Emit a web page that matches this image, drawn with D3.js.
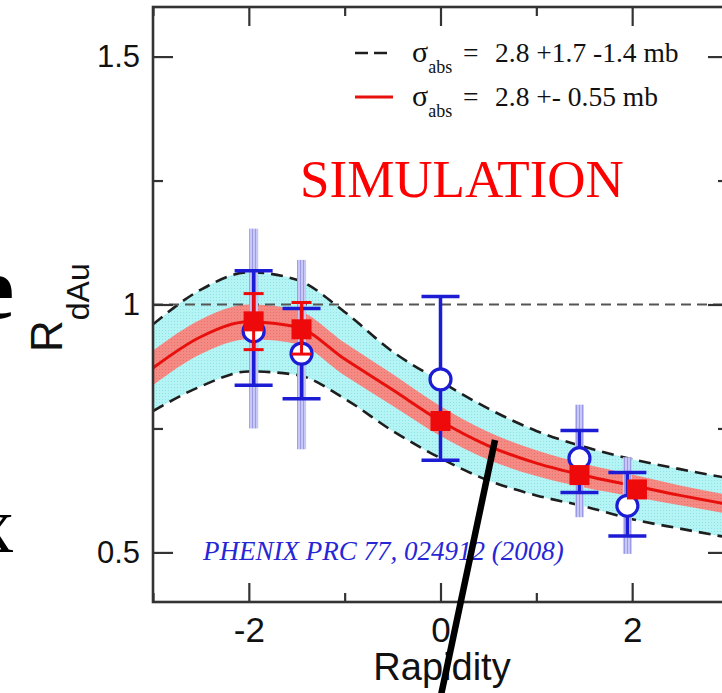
<!DOCTYPE html>
<html><head><meta charset="utf-8">
<script src="https://cdn.jsdelivr.net/npm/d3@7/dist/d3.min.js"></script>
<style>html,body{margin:0;padding:0;background:#fff;overflow:hidden}</style>
</head><body>
<svg id="c" width="722" height="693"></svg>
<script>
// ---- data ----
const rapidity = [-3, -2.5, -2, -1.5, -1, -0.5, 0, 0.5, 1, 1.5, 2, 2.5, 3];
const centerR = [0.872, 0.935, 0.965, 0.955, 0.89, 0.828, 0.765, 0.715, 0.68, 0.655, 0.635, 0.615, 0.597];
const redHalf = [0.035, 0.035, 0.035, 0.034, 0.033, 0.032, 0.03, 0.028, 0.026, 0.024, 0.022, 0.02, 0.019];
const upperR = [0.96, 1.03, 1.065, 1.05, 0.985, 0.905, 0.845, 0.79, 0.745, 0.713, 0.688, 0.668, 0.65];
const lowerR = [0.785, 0.835, 0.865, 0.858, 0.81, 0.745, 0.69, 0.645, 0.615, 0.593, 0.567, 0.548, 0.53];

const circX = [-1.95, -1.45, 0.0, 1.45, 1.95];
const circY = [0.946, 0.901, 0.849, 0.69, 0.594];
const circHi = [1.068, 0.992, 1.016, 0.746, 0.661];
const circLo = [0.837, 0.81, 0.686, 0.621, 0.533];
const sysHi = [1.153, 1.09, null, 0.798, 0.692];
const sysLo = [0.75, 0.708, null, 0.571, 0.497];

const sqX = [-1.95, -1.45, 0.0, 1.45, 2.05];
const sqY = [0.966, 0.95, 0.765, 0.656, 0.627];
const sqHi = [1.022, 1.004, null, null, null];
const sqLo = [0.909, 0.9, null, null, null];

const xMajor = [-2, 0, 2];
const xMinor = [-3, -1, 1, 3];
const yMajor = [0.5, 1, 1.5];
const yMinor = [0.75, 1.25];

const legendTexts = ["2.8 +1.7 -1.4 mb", "2.8 +- 0.55 mb"];

// ---- scales ----
const L = 153, R = 728, T = 7, B = 602;
const x = d3.scaleLinear().domain([-3, 3]).range([L, R]);
const y = d3.scaleLinear().domain([0.4, 1.6]).range([B, T]);

const svg = d3.select("#c");
const defs = svg.append("defs");
defs.append("clipPath").attr("id", "clip").append("rect")
  .attr("x", L).attr("y", T).attr("width", R - L).attr("height", B - T);

// textures
const pc = defs.append("pattern").attr("id", "cyan").attr("width", 3).attr("height", 3).attr("patternUnits", "userSpaceOnUse");
pc.append("rect").attr("width", 3).attr("height", 3).attr("fill", "#b4f4f4");
pc.append("rect").attr("width", 1).attr("height", 1).attr("fill", "#8fe2e6");
const pr = defs.append("pattern").attr("id", "redb").attr("width", 3).attr("height", 3).attr("patternUnits", "userSpaceOnUse");
pr.append("rect").attr("width", 3).attr("height", 3).attr("fill", "#f48a84");
pr.append("rect").attr("width", 1).attr("height", 1).attr("fill", "#ef6f6a");
const ps = defs.append("pattern").attr("id", "sys").attr("width", 3).attr("height", 3).attr("patternUnits", "userSpaceOnUse");
ps.append("rect").attr("width", 3).attr("height", 3).attr("fill", "#c8c8f6");
ps.append("rect").attr("width", 1).attr("height", 3).attr("fill", "#9a9ae8");

const pts = rapidity.map((r, i) => ({r, c: centerR[i], h: redHalf[i], u: upperR[i], l: lowerR[i]}));
const curve = d3.curveMonotoneX;

const plot = svg.append("g").attr("clip-path", "url(#clip)");

// cyan band
plot.append("path").datum(pts)
  .attr("d", d3.area().x(d => x(d.r)).y0(d => y(d.l)).y1(d => y(d.u)).curve(curve))
  .attr("fill", "url(#cyan)");
// red band
plot.append("path").datum(pts)
  .attr("d", d3.area().x(d => x(d.r)).y0(d => y(d.c - d.h)).y1(d => y(d.c + d.h)).curve(curve))
  .attr("fill", "url(#redb)");
// red center line
plot.append("path").datum(pts)
  .attr("d", d3.line().x(d => x(d.r)).y(d => y(d.c)).curve(curve))
  .attr("fill", "none").attr("stroke", "#e8100c").attr("stroke-width", 3);
// dashed bounds
["u", "l"].forEach(k => {
  plot.append("path").datum(pts)
    .attr("d", d3.line().x(d => x(d.r)).y(d => y(d[k])).curve(curve))
    .attr("fill", "none").attr("stroke", "#1e1e1e").attr("stroke-width", 2.6)
    .attr("stroke-dasharray", "12,7");
});
// y = 1 reference line
plot.append("line").attr("x1", L).attr("x2", R).attr("y1", y(1)).attr("y2", y(1))
  .attr("stroke", "#555").attr("stroke-width", 2).attr("stroke-dasharray", "10,6");

// systematic boxes
const circData = circX.map((v, i) => ({x: v, y: circY[i], hi: circHi[i], lo: circLo[i], sh: sysHi[i], sl: sysLo[i]}));
plot.selectAll(".sys").data(circData.filter(d => d.sh != null)).join("rect")
  .attr("x", d => x(d.x) - 4.5).attr("width", 9)
  .attr("y", d => y(d.sh)).attr("height", d => y(d.sl) - y(d.sh))
  .attr("fill", "url(#sys)");

// blue error bars
const blue = "#1c1cd4";
const eb = plot.selectAll(".eb").data(circData).join("g");
eb.append("line").attr("x1", d => x(d.x)).attr("x2", d => x(d.x))
  .attr("y1", d => y(d.hi)).attr("y2", d => y(d.lo)).attr("stroke", blue).attr("stroke-width", 3.5);
eb.append("line").attr("x1", d => x(d.x) - 19).attr("x2", d => x(d.x) + 19)
  .attr("y1", d => y(d.hi)).attr("y2", d => y(d.hi)).attr("stroke", blue).attr("stroke-width", 3.5);
eb.append("line").attr("x1", d => x(d.x) - 19).attr("x2", d => x(d.x) + 19)
  .attr("y1", d => y(d.lo)).attr("y2", d => y(d.lo)).attr("stroke", blue).attr("stroke-width", 3.5);
eb.append("circle").attr("cx", d => x(d.x)).attr("cy", d => y(d.y)).attr("r", 10.5)
  .attr("fill", "#fff").attr("stroke", blue).attr("stroke-width", 3.2);

// red squares + error bars
const sqData = sqX.map((v, i) => ({x: v, y: sqY[i], hi: sqHi[i], lo: sqLo[i]}));
const red = "#ee0a0a";
const rb = plot.selectAll(".rb").data(sqData.filter(d => d.hi != null)).join("g");
rb.append("line").attr("x1", d => x(d.x)).attr("x2", d => x(d.x))
  .attr("y1", d => y(d.hi)).attr("y2", d => y(d.lo)).attr("stroke", red).attr("stroke-width", 3);
rb.append("line").attr("x1", d => x(d.x) - 10).attr("x2", d => x(d.x) + 10)
  .attr("y1", d => y(d.hi)).attr("y2", d => y(d.hi)).attr("stroke", red).attr("stroke-width", 3);
rb.append("line").attr("x1", d => x(d.x) - 10).attr("x2", d => x(d.x) + 10)
  .attr("y1", d => y(d.lo)).attr("y2", d => y(d.lo)).attr("stroke", red).attr("stroke-width", 3);
plot.selectAll(".sq").data(sqData).join("rect")
  .attr("x", d => x(d.x) - 10).attr("y", d => y(d.y) - 10).attr("width", 20).attr("height", 20)
  .attr("fill", red);

// ---- axes ----
const axisColor = "#333";
function styleAxis(g) {
  g.select(".domain").remove();
  g.selectAll(".tick line").attr("stroke", axisColor).attr("stroke-width", 2.2);
  g.selectAll(".tick text").attr("fill", "#111").attr("font-family", "Liberation Sans, Arial, sans-serif");
}
svg.append("g").attr("transform", `translate(0,${B})`)
  .call(d3.axisBottom(x).tickValues(xMajor).tickSize(-19).tickPadding(15).tickFormat(d => String(d)))
  .call(styleAxis).call(g => g.selectAll("text").attr("font-size", 35));
svg.append("g").attr("transform", `translate(0,${B})`)
  .call(d3.axisBottom(x).tickValues(xMinor).tickSize(-9).tickFormat("")).call(styleAxis);
svg.append("g").attr("transform", `translate(0,${T})`)
  .call(d3.axisTop(x).tickValues(xMajor).tickSize(-19).tickFormat("")).call(styleAxis);
svg.append("g").attr("transform", `translate(0,${T})`)
  .call(d3.axisTop(x).tickValues(xMinor).tickSize(-9).tickFormat("")).call(styleAxis);
svg.append("g").attr("transform", `translate(${L},0)`)
  .call(d3.axisLeft(y).tickValues(yMajor).tickSize(-20).tickPadding(13).tickFormat(d => d === 1 ? "1" : d3.format(".1f")(d)))
  .call(styleAxis).call(g => g.selectAll("text").attr("font-size", 31));
svg.append("g").attr("transform", `translate(${L},0)`)
  .call(d3.axisLeft(y).tickValues(yMinor).tickSize(-10).tickFormat("")).call(styleAxis);
svg.append("g").attr("transform", `translate(${R},0)`)
  .call(d3.axisRight(y).tickValues(yMajor).tickSize(-20).tickFormat("")).call(styleAxis);
svg.append("g").attr("transform", `translate(${R},0)`)
  .call(d3.axisRight(y).tickValues(yMinor).tickSize(-10).tickFormat("")).call(styleAxis);

// frame
svg.append("rect").attr("x", L).attr("y", T).attr("width", R - L).attr("height", B - T)
  .attr("fill", "none").attr("stroke", axisColor).attr("stroke-width", 2.6);

// axis titles
svg.append("text").attr("x", 442).attr("y", 680).attr("text-anchor", "middle")
  .attr("font-family", "Liberation Sans, Arial, sans-serif").attr("font-size", 38).attr("fill", "#111")
  .text("Rapidity");
const yl = svg.append("text").attr("transform", "translate(62,352) rotate(-90)")
  .attr("font-family", "Liberation Sans, Arial, sans-serif").attr("fill", "#111");
yl.append("tspan").attr("font-size", 44).text("R");
yl.append("tspan").attr("font-size", 32).attr("dy", 27).text("dAu");

// legend
const serif = "Liberation Serif, Times New Roman, serif";
const leg = [{y: 53, dash: "13,6", color: "#1e1e1e", w: 2.6}, {y: 97, dash: null, color: "#e8100c", w: 3}];
leg.forEach((d, i) => {
  svg.append("line").attr("x1", 355).attr("x2", 393).attr("y1", d.y).attr("y2", d.y)
    .attr("stroke", d.color).attr("stroke-width", d.w).attr("stroke-dasharray", d.dash);
  const t = svg.append("text").attr("x", 412).attr("y", d.y + 9).attr("font-family", serif)
    .attr("font-size", 27.5).attr("fill", "#111");
  t.append("tspan").attr("font-size", 30).text("σ");
  t.append("tspan").attr("font-size", 18).attr("dy", 11).text("abs");
  t.append("tspan").attr("dy", -11).attr("x", 463).text("=");
  t.append("tspan").attr("x", 495).text(legendTexts[i]);
});

// annotations
svg.append("text").attr("x", 300).attr("y", 197).attr("font-family", serif)
  .attr("font-size", 53).attr("fill", "#ff0000").text("SIMULATION");
svg.append("text").attr("x", 203).attr("y", 560).attr("font-family", serif)
  .attr("font-style", "italic").attr("font-size", 27).attr("fill", "#2626d6")
  .text("PHENIX PRC 77, 024912 (2008)");

// cut-off slide text at left edge (cropped in the reference as well)
svg.append("text").attr("x", 14).attr("y", 318).attr("text-anchor", "end")
  .attr("font-family", serif).attr("font-weight", "bold").attr("font-size", 88).attr("fill", "#000").text("e");
svg.append("text").attr("x", 14).attr("y", 552).attr("text-anchor", "end")
  .attr("font-family", serif).attr("font-size", 80).attr("fill", "#000").text("x");

// black slanted pointer line
svg.append("line").attr("x1", 495).attr("y1", 440).attr("x2", 440).attr("y2", 700)
  .attr("stroke", "#000").attr("stroke-width", 6.5);
</script>
</body></html>
